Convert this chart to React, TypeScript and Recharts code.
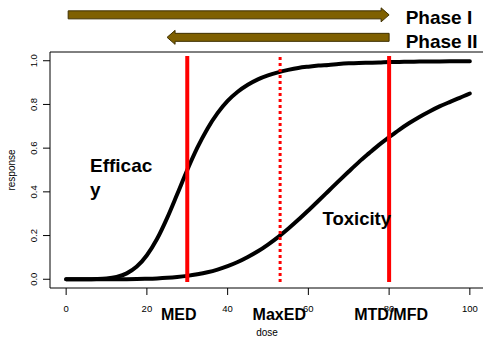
import {
  LineChart,
  Line,
  XAxis,
  YAxis,
  ReferenceLine,
  ReferenceArea,
  ReferenceDot,
} from "recharts";

const FONT = '"Liberation Sans", Arial, Helvetica, sans-serif';

// dose grid and the two dose-response curves
const doses = [
  0, 2.5, 5, 7.5, 10, 12.5, 15, 17.5, 20, 22.5, 25, 27.5, 30, 32.5, 35, 37.5, 40, 42.5, 45, 47.5, 50,
  52.5, 55, 57.5, 60, 62.5, 65, 67.5, 70, 72.5, 75, 77.5, 80, 82.5, 85, 87.5, 90, 92.5, 95, 97.5, 100,
];
const efficacy = [
  0, 0, 0, 0.0008, 0.0034, 0.011, 0.027, 0.058, 0.11, 0.184, 0.28, 0.389, 0.5, 0.602, 0.689, 0.76, 0.816, 0.858, 0.89, 0.915, 0.933,
  0.947, 0.958, 0.967, 0.973, 0.978, 0.981, 0.985, 0.988, 0.99, 0.991, 0.992, 0.994, 0.9946, 0.9955, 0.996, 0.9966, 0.997, 0.9974, 0.9977, 0.998,
];
const toxicity = [
  0, 0, 0, 0, 0.0001, 0.0002, 0.0005, 0.0011, 0.0022, 0.0039, 0.0065, 0.0103, 0.0155, 0.0227, 0.032, 0.0444, 0.06, 0.079, 0.102, 0.128, 0.159,
  0.193, 0.231, 0.272, 0.315, 0.359, 0.404, 0.449, 0.493, 0.536, 0.576, 0.615, 0.65, 0.684, 0.715, 0.743, 0.768, 0.791, 0.811, 0.83, 0.85,
];

const xTicks = [0, 20, 40, 60, 80, 100];
const yTicks = [0, 0.2, 0.4, 0.6, 0.8, 1.0];

// vertical dose markers
const markDoses = [30, 53, 80];
const markDotted = [false, true, false];
const markNames = ["MED", "MaxED", "MTD/MFD"];
const markNameX = [27.9, 52.8, 80.5];

// phase arrows: [from, to] in dose units
const phaseNames = ["Phase I", "Phase II"];
const phaseFrom = [0.5, 80];
const phaseTo = [80, 25];
const phaseY = [1.21, 1.107];

const data = doses.map((d, i) => ({ dose: d, eff: efficacy[i], tox: toxicity[i] }));

const XTick = ({ x, y, payload }: any) => (
  <text x={x} y={y + 15} textAnchor="middle" fontSize={9.5} fontFamily={FONT} fill="#000">
    {payload.value}
  </text>
);

const YTick = ({ x, y, payload }: any) => (
  <text
    transform={`translate(${x - 4.5},${y}) rotate(-90)`}
    textAnchor="middle"
    fontSize={9.5}
    fontFamily={FONT}
    fill="#000"
  >
    {Number(payload.value).toFixed(1)}
  </text>
);

const arrowShape = (p: any) => {
  const { x1, x2, y1 } = p;
  const d = x2 > x1 ? 1 : -1;
  const hx = x2 - d * 8;
  const pts = [
    [x1, y1 - 4],
    [hx, y1 - 4],
    [hx, y1 - 7],
    [x2, y1],
    [hx, y1 + 7],
    [hx, y1 + 4],
    [x1, y1 + 4],
  ]
    .map((q) => q.join(","))
    .join(" ");
  return <polygon points={pts} fill="#7f6000" stroke="#3f3000" strokeWidth={1} />;
};

const textShape = (lines: string[], anchor: string, size: number) => (p: any) => (
  <text x={p.cx} y={p.cy} textAnchor={anchor} fontSize={size} fontWeight="bold" fontFamily={FONT} fill="#000">
    {lines.map((l, i) => (
      <tspan key={i} x={p.cx} dy={i === 0 ? 0 : 24}>
        {l}
      </tspan>
    ))}
  </text>
);

export default function App() {
  return (
    <div style={{ position: "absolute", left: 0, top: 0, width: 483, height: 339, overflow: "hidden", background: "#fff" }}>
      <LineChart width={486} height={339} data={data} margin={{ top: 52, right: 0, bottom: 0, left: 0 }}>
        <XAxis
          dataKey="dose"
          type="number"
          domain={[-4, 104]}
          allowDataOverflow
          ticks={xTicks}
          tickSize={7}
          tickLine={{ stroke: "#000" }}
          axisLine={false}
          height={51}
          tick={<XTick />}
          label={{
            content: ({ viewBox }: any) => (
              <text x={viewBox.x + viewBox.width / 2 - 1} y={viewBox.y + 48} textAnchor="middle" fontSize={10} fontFamily={FONT} fill="#000">
                dose
              </text>
            ),
          }}
        />
        <YAxis
          type="number"
          domain={[-0.04, 1.04]}
          allowDataOverflow
          ticks={yTicks}
          tickSize={7}
          tickLine={{ stroke: "#000" }}
          axisLine={false}
          width={50}
          tick={<YTick />}
          label={{
            content: ({ viewBox }: any) => (
              <text
                transform={`translate(${viewBox.x + 14.5},${viewBox.y + viewBox.height / 2}) rotate(-90)`}
                textAnchor="middle"
                fontSize={10}
                fontFamily={FONT}
                fill="#000"
              >
                response
              </text>
            ),
          }}
        />
        <ReferenceArea x1={-4} x2={104} y1={-0.04} y2={1.04} fill="none" stroke="#000" strokeWidth={1} fillOpacity={0} ifOverflow="visible" />

        <Line type="monotone" dataKey="eff" stroke="#000" strokeWidth={4} strokeLinecap="round" dot={false} isAnimationActive={false} />
        <Line type="monotone" dataKey="tox" stroke="#000" strokeWidth={4} strokeLinecap="round" dot={false} isAnimationActive={false} />

        {phaseNames.map((n, i) => (
          <ReferenceLine
            key={n}
            segment={[
              { x: phaseFrom[i], y: phaseY[i] },
              { x: phaseTo[i], y: phaseY[i] },
            ]}
            ifOverflow="visible"
            shape={arrowShape}
          />
        ))}
        <ReferenceDot x={84.1} y={1.167} ifOverflow="visible" shape={textShape(["Phase I"], "start", 19)} />
        <ReferenceDot x={84.1} y={1.057} ifOverflow="visible" shape={textShape(["Phase II"], "start", 19)} />
        <ReferenceDot x={5.9} y={0.492} ifOverflow="visible" shape={textShape(["Efficac", "y"], "start", 19)} />
        <ReferenceDot x={63.5} y={0.2485} ifOverflow="visible" shape={textShape(["Toxicity"], "start", 18.5)} />
        {markNames.map((n, i) => (
          <ReferenceDot key={n} x={markNameX[i]} y={-0.186} ifOverflow="visible" shape={textShape([n], "middle", 16)} />
        ))}

        {markDoses.map((d, i) => (
          <ReferenceLine
            key={d}
            segment={[
              { x: d, y: -0.012 },
              { x: d, y: 1.022 },
            ]}
            ifOverflow="visible"
            stroke="#ff0000"
            strokeWidth={markDotted[i] ? 3 : 4}
            strokeDasharray={markDotted[i] ? "3 3" : undefined}
          />
        ))}
      </LineChart>
    </div>
  );
}
